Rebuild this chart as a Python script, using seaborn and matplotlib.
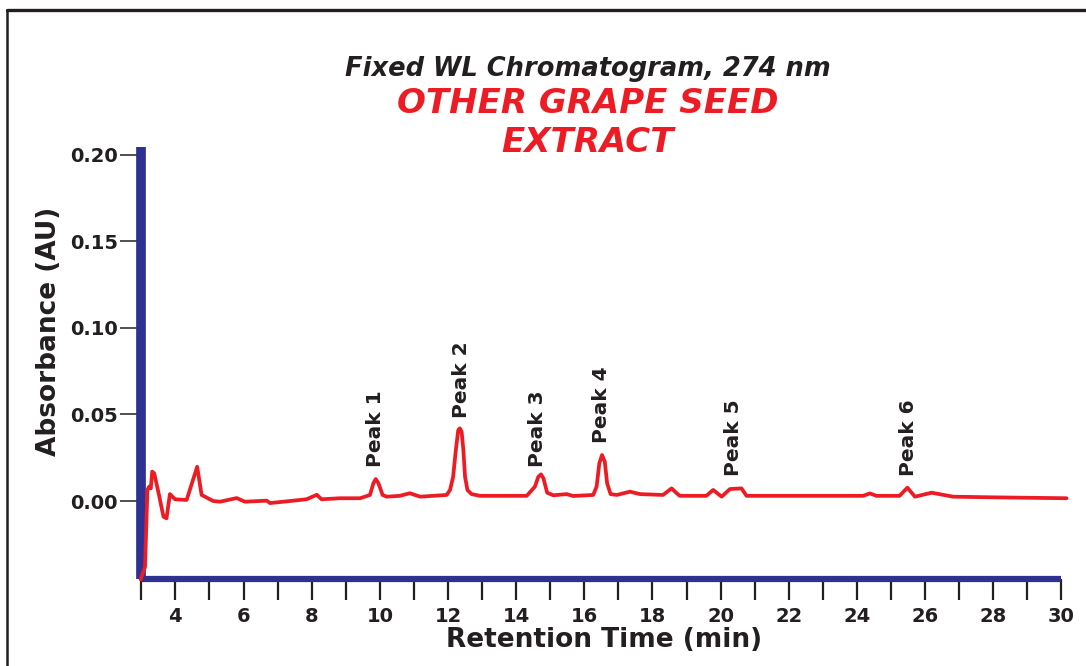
import numpy as np
import pandas as pd
import seaborn as sns
import matplotlib.pyplot as plt
from matplotlib.lines import Line2D

# trace: retention time (min), absorbance (AU)
rt = [2.98, 3.11, 3.18, 3.23, 3.28, 3.32, 3.38, 3.53, 3.65, 3.74, 3.84, 3.99,
      4.33, 4.64, 4.77, 5.11, 5.31, 5.80, 6.04, 6.68, 6.78, 7.85, 8.15, 8.29,
      8.83, 9.42, 9.71, 9.81, 9.88, 9.96, 10.08, 10.2, 10.59, 10.88, 11.18,
      11.96, 12.06, 12.15, 12.23, 12.30, 12.35, 12.40, 12.45, 12.50, 12.57,
      12.69, 12.94, 14.31, 14.55, 14.65, 14.73, 14.80, 14.91, 15.09, 15.48,
      15.67, 16.26, 16.36, 16.44, 16.52, 16.60, 16.67, 16.77, 16.95, 17.34,
      17.63, 18.31, 18.56, 18.71, 18.80, 19.58, 19.78, 20.03, 20.27, 20.61,
      20.76, 24.18, 24.38, 24.57, 25.25, 25.48, 25.70, 26.19, 26.82, 28.09,
      30.15]
absorbance = [-0.0453, -0.038, 0.0064, 0.0083, 0.0073, 0.017, 0.016, 0.0025,
              -0.009, -0.010, 0.004, 0.001, 0.0006, 0.0198, 0.0035, 0.000,
              -0.0004, 0.0017, -0.0004, 0.0002, -0.0012, 0.001, 0.0036, 0.001,
              0.0016, 0.0016, 0.0035, 0.0102, 0.0127, 0.0102, 0.0035, 0.0025,
              0.003, 0.0045, 0.0025, 0.0035, 0.0064, 0.014, 0.0295, 0.041,
              0.042, 0.040, 0.0295, 0.014, 0.0064, 0.004, 0.003, 0.003, 0.0083,
              0.014, 0.0154, 0.0131, 0.0048, 0.0033, 0.004, 0.0029, 0.0035,
              0.0083, 0.0218, 0.0266, 0.0227, 0.0102, 0.004, 0.0035, 0.0054,
              0.004, 0.0035, 0.0073, 0.0045, 0.003, 0.003, 0.0064, 0.0025,
              0.0069, 0.0073, 0.003, 0.003, 0.0044, 0.003, 0.003, 0.0077,
              0.0025, 0.0048, 0.0025, 0.0021, 0.0016]

peak_names = ['Peak 1', 'Peak 2', 'Peak 3', 'Peak 4', 'Peak 5', 'Peak 6']
peak_rt = [9.88, 12.41, 14.64, 16.49, 20.39, 25.52]
peak_label_y = [0.0197, 0.048, 0.0197, 0.0335, 0.0145, 0.0145]

x_major = list(range(4, 31, 2))
x_minor = list(range(3, 31, 2))
y_ticks = [0.00, 0.05, 0.10, 0.15, 0.20]

blue = '#2E3192'
red = '#ED1C24'
ink = '#231F20'

sns.set_style('white')
plt.rcParams['font.family'] = ['DejaVu Sans']

trace = pd.DataFrame({'rt': rt, 'absorbance': absorbance})

fig = plt.figure(figsize=(10.86, 6.66), dpi=100)
ax = fig.add_axes([0.1301, 0.1303, 0.8473, 0.6490])

sns.lineplot(data=trace, x='rt', y='absorbance', ax=ax, color=red,
             linewidth=2.7, estimator=None, sort=False, zorder=3, clip_on=False)

ax.set_xlim(3, 30)
ax.set_ylim(-0.0452, 0.2046)

# axes: thick blue left/bottom lines
for side in ['top', 'right']:
    ax.spines[side].set_visible(False)
ax.spines['left'].set_color(blue)
ax.spines['left'].set_linewidth(7)
ax.spines['bottom'].set_color(blue)
ax.spines['bottom'].set_linewidth(4.5)
for side in ['left', 'bottom']:
    ax.spines[side].set_capstyle('butt')

ax.set_xticks(x_major)
ax.set_xticks(x_minor, minor=True)
ax.set_xticklabels([str(v) for v in x_major], fontweight='bold')
ax.set_yticks(y_ticks)
ax.set_yticklabels([f'{v:.2f}' for v in y_ticks], fontweight='bold')
ax.tick_params(axis='x', which='both', bottom=True, direction='out',
               length=14.8, width=1.6, color=ink, pad=5, labelsize=14,
               labelcolor=ink)
ax.tick_params(axis='y', left=True, direction='out', length=14.8, width=1.1,
               color=ink, pad=2, labelsize=14, labelcolor=ink)

ax.set_xlabel('Retention Time (min)', fontsize=19, fontweight='bold', color=ink)
ax.set_ylabel('Absorbance (AU)', fontsize=19, fontweight='bold', color=ink)
ax.xaxis.set_label_coords(0.503, -0.1106)
ax.yaxis.set_label_coords(-0.086, 0.573)

for name, x, y in zip(peak_names, peak_rt, peak_label_y):
    ax.text(x, y, name, rotation=90, ha='center', va='bottom',
            fontsize=14.5, fontweight='bold', color=ink)

# titles
fig.text(0.5414, 1 - 76 / 666, 'Fixed WL Chromatogram, 274 nm', ha='center',
         va='baseline', fontsize=18.5, fontweight='bold', style='italic', color=ink)
fig.text(0.5414, 1 - 113 / 666, 'OTHER GRAPE SEED', ha='center', va='baseline',
         fontsize=24.5, fontweight='bold', style='italic', color=red)
fig.text(0.5414, 1 - 152.5 / 666, 'EXTRACT', ha='center', va='baseline',
         fontsize=24.5, fontweight='bold', style='italic', color=red)

# outer frame (top and left edges only visible)
fig.add_artist(Line2D([7 / 1086, 1.0], [1 - 10 / 666] * 2,
                      transform=fig.transFigure, color=ink, lw=2.4))
fig.add_artist(Line2D([7 / 1086] * 2, [0.0, 1 - 10 / 666],
                      transform=fig.transFigure, color=ink, lw=1.8))

fig.savefig('out.png', dpi=100)
